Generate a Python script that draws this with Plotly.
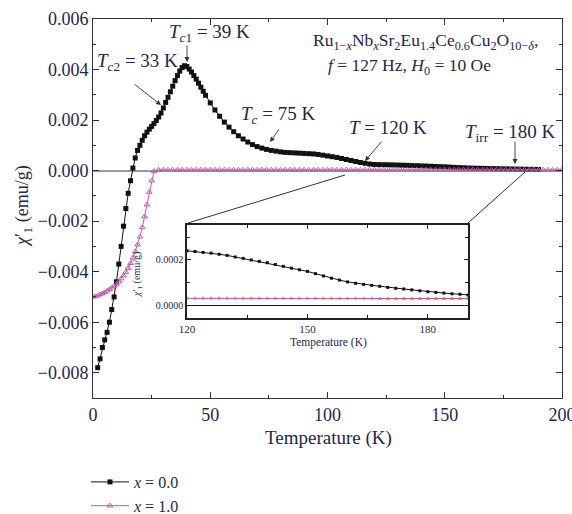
import plotly.graph_objects as go

# ---------------- data ----------------
T_x0 = [2, 3, 4, 5, 6, 7, 8, 9, 10, 11, 12, 13, 14, 15, 16, 17, 18, 19, 20, 21, 22, 23, 24, 25,
        26, 27, 28, 29, 30, 31, 32, 33, 34, 35, 36, 37, 38, 39, 40, 41, 42, 43, 44, 45, 46, 47, 48,
        50, 52, 54, 56, 58, 60, 62, 64, 66, 68, 70, 72, 74, 76, 78, 80, 82, 84, 86, 88, 90, 92, 94,
        96, 98, 100, 102, 104, 106, 108, 110, 112, 114, 116, 118,
        120, 122, 124, 126, 128, 130, 132, 134, 136, 138, 140, 142, 144, 146, 148, 150, 152, 154,
        156, 158, 160, 162, 164, 166, 168, 170, 172, 174, 176, 178, 180, 182, 184, 186, 188, 190]
chi_x0 = [-0.0078, -0.00745, -0.0070, -0.0067, -0.0064, -0.0060, -0.0055, -0.0050, -0.0044, -0.0037,
          -0.0030, -0.0022, -0.0015, -0.0009, -0.0004, 0.0001, 0.0005, 0.0008, 0.0010, 0.0012,
          0.00138, 0.00152, 0.00164, 0.00175, 0.00186, 0.00198, 0.00212, 0.00228, 0.00248, 0.0027,
          0.0029, 0.00312, 0.00334, 0.00356, 0.00376, 0.00394, 0.00408, 0.00415, 0.00412, 0.00402,
          0.0039, 0.00376, 0.00362, 0.00346, 0.0033, 0.00314, 0.00298,
          0.00268, 0.0024, 0.00215, 0.00192, 0.00172, 0.00154, 0.00138, 0.00125, 0.00113, 0.00103,
          0.00095, 0.00089, 0.00084, 0.0008, 0.00077, 0.00074, 0.00072, 0.00071, 0.0007, 0.00069,
          0.00068, 0.00067, 0.00066, 0.00064, 0.00061, 0.00058, 0.00055, 0.00052, 0.00048, 0.00044,
          0.0004, 0.00036, 0.00032, 0.00029, 0.00026,
          0.00024, 0.000237, 0.000233, 0.00023, 0.000225, 0.00022, 0.000213, 0.000207, 0.0002,
          0.000194, 0.000188, 0.00018, 0.000172, 0.000164, 0.000157, 0.00015, 0.00014, 0.00013,
          0.00012, 0.000112, 0.000104, 0.000098, 0.000093, 0.000089, 0.000085, 0.00008, 0.000076,
          0.000073, 0.000069, 0.000065, 0.000061, 0.000058, 0.000055, 0.000052, 0.00005, 0.000047]

T_x1 = [0, 1, 2, 3, 4, 5, 6, 7, 8, 9, 10, 11, 12, 13, 14, 15, 16, 17, 18, 19, 20, 21, 22, 23, 24,
        25, 26, 28, 30, 32, 34, 36, 38, 40, 42, 44, 46, 48, 50, 52, 54, 56, 58, 60, 62, 64, 66, 68,
        70, 72, 74, 76, 78, 80, 82, 84, 86, 88, 90, 92, 94, 96, 98, 100, 102, 104, 106, 108, 110,
        112, 114, 116, 118, 120, 122, 124, 126, 128, 130, 132, 134, 136, 138, 140, 142, 144, 146,
        148, 150, 152, 154, 156, 158, 160, 162, 164, 166, 168, 170, 172, 174, 176, 178, 180, 182,
        184, 186, 188, 190, 192, 194, 196, 198, 200]
chi_x1 = [-0.0050, -0.00498, -0.00495, -0.0049, -0.00486, -0.00481, -0.00476, -0.0047, -0.00464,
          -0.00457, -0.00449, -0.0044, -0.00428, -0.00416, -0.00402, -0.00386, -0.00367, -0.00345,
          -0.0032, -0.00293, -0.00262, -0.00225, -0.00182, -0.00135, -0.00085, -0.0004, -0.00002,
          0.000030, 0.000031, 0.000031, 0.000032, 0.000032, 0.000032, 0.000032, 0.000032, 0.000032,
          0.000032, 0.000032, 0.000032, 0.000032, 0.000032, 0.000032, 0.000032, 0.000032, 0.000032,
          0.000032, 0.000032, 0.000032, 0.000032, 0.000032, 0.000032, 0.000032, 0.000032, 0.000032,
          0.000032, 0.000032, 0.000032, 0.000032, 0.000032, 0.000032, 0.000032, 0.000032, 0.000032,
          0.000032, 0.000032, 0.000032, 0.000032, 0.000032, 0.000032, 0.000032, 0.000032, 0.000032,
          0.000032, 0.000032, 0.000032, 0.000032, 0.000032, 0.000032, 0.000032, 0.000032, 0.000032,
          0.000032, 0.000032, 0.000032, 0.000032, 0.000032, 0.000032, 0.000032, 0.000032, 0.000032,
          0.000032, 0.000032, 0.000032, 0.000032, 0.000032, 0.000032, 0.000032, 0.000031, 0.000031,
          0.000031, 0.000031, 0.000031, 0.000031, 0.000031, 0.000031, 0.000031, 0.000031, 0.000031,
          0.000031, 0.000031, 0.000031, 0.000031, 0.000031, 0.000031, 0.000031]

series_names = ["<i>x</i> = 0.0", "<i>x</i> = 1.0"]

# ---------------- style ----------------
FONT = "Liberation Serif"
TXT = "#26264a"
BLACK = "#111111"
PINK = "#c45aa8"
W, H = 572, 514
L, R, T, B = 93, 10, 19, 116
PW, PH = W - L - R, H - T - B


def px(x):
    return (x - L) / PW


def py(y):
    return (H - B - y) / PH


fig = go.Figure()

fig.add_trace(go.Scatter(
    x=T_x0, y=chi_x0, mode="lines+markers", name=series_names[0],
    line=dict(color=BLACK, width=1),
    marker=dict(symbol="square", size=5, color=BLACK),
    xaxis="x", yaxis="y"))
fig.add_trace(go.Scatter(
    x=T_x1, y=chi_x1, mode="lines+markers", name=series_names[1],
    line=dict(color=PINK, width=1),
    marker=dict(symbol="triangle-up-open", size=5, color=PINK, line=dict(width=1, color=PINK)),
    xaxis="x", yaxis="y"))

# inset (same data, zoomed)
ins0 = [(t, v) for t, v in zip(T_x0, chi_x0) if t >= 120]
ins1 = [(t, v) for t, v in zip(T_x1, chi_x1) if t >= 120]
fig.add_trace(go.Scatter(
    x=[a for a, _ in ins0], y=[b for _, b in ins0], mode="lines+markers", showlegend=False,
    line=dict(color=BLACK, width=1), marker=dict(symbol="square", size=3, color=BLACK),
    xaxis="x2", yaxis="y2"))
fig.add_trace(go.Scatter(
    x=[a for a, _ in ins1], y=[b for _, b in ins1], mode="lines+markers", showlegend=False,
    line=dict(color=PINK, width=1),
    marker=dict(symbol="triangle-up-open", size=3, color=PINK, line=dict(width=0.8, color=PINK)),
    xaxis="x2", yaxis="y2"))

axis_common = dict(showgrid=False, showline=True, mirror="ticks", linecolor="#333333",
                   linewidth=1, ticks="inside", tickcolor="#333333", automargin=False,
                   tickfont=dict(family=FONT, size=18, color=TXT))

fig.update_layout(
    width=W, height=H, margin=dict(l=L, r=R, t=T, b=B, autoexpand=False),
    paper_bgcolor="white", plot_bgcolor="white",
    font=dict(family=FONT, color=TXT),
    xaxis=dict(range=[0, 200], domain=[0, 1], tick0=0, dtick=50, ticklen=6,
               ticklabeloverflow="allow",
               minor=dict(ticks="inside", dtick=25, ticklen=3, tickcolor="#333333"),
               zeroline=False, **axis_common),
    yaxis=dict(range=[-0.009, 0.006], domain=[0, 1], tick0=0, dtick=0.002, tickformat=".3f",
               ticklen=6, minor=dict(ticks="inside", dtick=0.001, ticklen=3, tickcolor="#333333"),
               zeroline=True, zerolinecolor="#9a9a9a", zerolinewidth=1.5, **axis_common),
    xaxis2=dict(range=[120, 190], domain=[px(187), px(468)], anchor="y2", tick0=120, dtick=30,
                ticklen=4, minor=dict(ticks="inside", dtick=15, ticklen=3, tickcolor="#222222"),
                showgrid=False, showline=True, mirror="ticks", linecolor="#222222", linewidth=1.5,
                ticks="inside", tickcolor="#222222", zeroline=False, automargin=False,
                tickfont=dict(family=FONT, size=11, color=TXT)),
    yaxis2=dict(range=[-0.000054, 0.000353], domain=[py(318), py(225)], anchor="x2",
                tick0=0, dtick=0.0002, tickformat=".4f", ticklen=4,
                minor=dict(ticks="inside", dtick=0.0001, ticklen=3, tickcolor="#222222"),
                showgrid=False, showline=True, mirror="ticks", linecolor="#222222", linewidth=1.5,
                ticks="inside", tickcolor="#222222", automargin=False,
                zeroline=True, zerolinecolor="#111111", zerolinewidth=1,
                tickfont=dict(family=FONT, size=10, color=TXT)),
    legend=dict(xref="container", yref="container", x=86 / W, y=1 - 465 / H,
                xanchor="left", yanchor="top",
                font=dict(family=FONT, size=16, color=TXT), bgcolor="rgba(0,0,0,0)",
                tracegroupgap=0, itemwidth=38),
    showlegend=True,
)

# connector lines main -> inset
fig.add_shape(type="line", xref="paper", yref="paper", x0=px(188), y0=py(223), x1=px(345), y1=py(175),
              line=dict(color="#333333", width=1))
fig.add_shape(type="line", xref="paper", yref="paper", x0=px(468), y0=py(223), x1=px(525), y1=py(172),
              line=dict(color="#333333", width=1))

annots = []


def text(s, x, y, size=19, angle=0):
    annots.append(dict(text=s, x=px(x), y=py(y), xref="paper", yref="paper", showarrow=False,
                       xanchor="center", yanchor="middle", textangle=angle,
                       font=dict(family=FONT, size=size, color=TXT)))


def arrow(tail, head):
    annots.append(dict(text="", x=px(head[0]), y=py(head[1]), xref="paper", yref="paper",
                       showarrow=True, ax=tail[0] - head[0], ay=tail[1] - head[1],
                       arrowhead=2, arrowsize=1.1, arrowwidth=0.9, arrowcolor="#333333"))


text("<i>T</i><sub><i>c</i>1</sub> = 39 K", 209, 33)
text("<i>T</i><sub><i>c</i>2</sub> = 33 K", 137, 62)
text("<i>T</i><sub><i>c</i></sub> = 75 K", 278, 115)
text("<i>T</i> = 120 K", 388, 127)
text("<i>T</i><sub>irr</sub> = 180 K", 510, 133)
text("Ru<sub>1−<i>x</i></sub>Nb<sub><i>x</i></sub>Sr<sub>2</sub>Eu<sub>1.4</sub>Ce<sub>0.6</sub>"
     "Cu<sub>2</sub>O<sub>10−<i>δ</i></sub>,", 425, 41, size=17.5)
text("<i>f</i> = 127 Hz, <i>H</i><sub>0</sub> = 10 Oe", 409, 66, size=17.5)

arrow((187, 44), (187, 62))
arrow((133, 83), (161, 105))
arrow((280, 128), (270, 142))
arrow((383, 140), (365, 161))
arrow((515, 140), (515, 164))

# axis titles
text("Temperature (K)", 328, 438, size=19)
text("<i>χ</i>′<sub>1</sub> (emu/g)", 23, 206, size=18, angle=-90)
text("Temperature (K)", 328, 342, size=11.5)
text("<i>χ</i>′<sub>1</sub> (emu/g)", 137, 275, size=10, angle=-90)

fig.update_layout(annotations=annots)

fig.write_html("out.html", config={"displayModeBar": False})
